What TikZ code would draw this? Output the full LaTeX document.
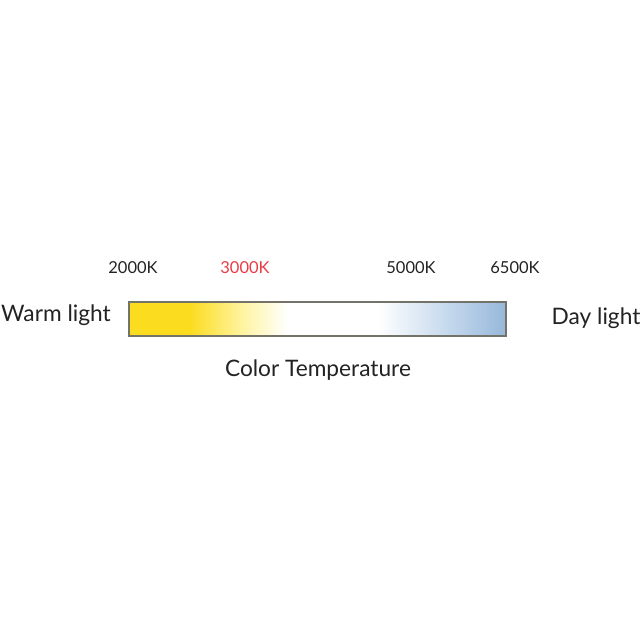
\documentclass[tikz,border=0pt]{standalone}
\usepackage{fontspec}
\setmainfont{Lato}
\definecolor{warmyel}{RGB}{252,220,30}
\definecolor{paleyel}{RGB}{255,244,160}
\definecolor{dayblue}{RGB}{150,184,218}
\definecolor{midblue}{RGB}{205,222,240}
\definecolor{barframe}{RGB}{115,115,105}
\definecolor{txtgray}{RGB}{35,35,35}
\definecolor{redk}{RGB}{232,60,70}
\pgfdeclarehorizontalshading{ctemp}{100bp}{color(0bp)=(warmyel); color(25bp)=(warmyel); color(33bp)=(warmyel); color(40bp)=(paleyel); color(46bp)=(white); color(58bp)=(white); color(66bp)=(midblue); color(75bp)=(dayblue); color(100bp)=(dayblue)}
\tikzset{
  klabel/.style={font=\fontsize{16.5}{19}\selectfont, text=txtgray, inner sep=0pt},
  biglabel/.style={font=\fontsize{22.7}{26}\selectfont, text=txtgray, inner sep=0pt},
}
\begin{document}
\begin{tikzpicture}[x=1pt,y=-1pt]
\useasboundingbox (0,0) rectangle (640,640);
\fill[white] (0,0) rectangle (640,640);
\coordinate (bl) at (129,302);
\coordinate (tr) at (506,336);
\shade[shading=ctemp] (bl) rectangle (tr);
\draw[barframe, line width=1.5pt] (bl) rectangle (tr);
\node[klabel] (k2000) at (133,268) {2000K};
\node[klabel, text=redk] (k3000) at (245,268) {3000K};
\node[klabel] (k5000) at (411,268) {5000K};
\node[klabel] (k6500) at (515,268) {6500K};
\node[biglabel] (warm) at (56,315) {Warm light};
\node[biglabel] (day) at (596,318) {Day light};
\node[biglabel] (ctitle) at (318,370) {Color Temperature};
\end{tikzpicture}
\end{document}
